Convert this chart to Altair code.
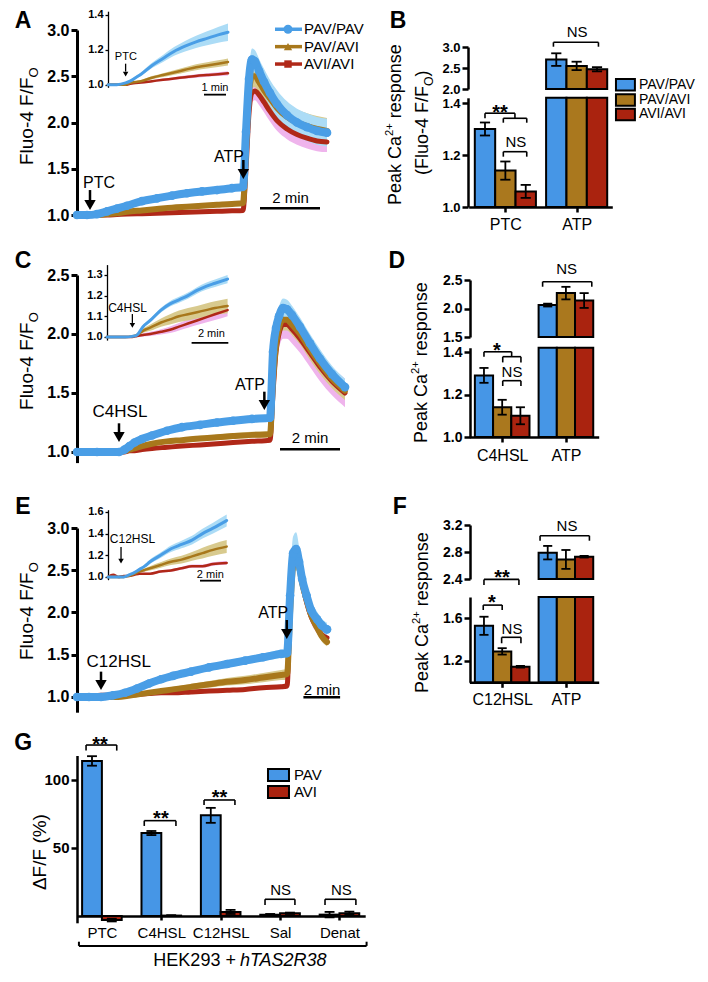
import json
import altair as alt
import pandas as pd

FONT = "Liberation Sans"
M = 8
W, H = 692, 962

GENOS = ["PAV/PAV", "PAV/AVI", "AVI/AVI"]
G_GENOS = ["PAV", "AVI"]
LINE_COL = ["#4a9ee6", "#a8781c", "#b02818"]
BAND_COL = ["#acdcf6", "#d8ca8e", "#efb4ec"]
BAR_COL = ["#4696e6", "#aa781e", "#aa230f"]

# ---------------- data: panel A (PTC, time in s) ----------------
A_T = [0, 20, 40, 60, 80, 100, 130, 160, 190, 220, 250, 280, 310, 332, 338, 344, 350, 356, 364, 374, 386, 400, 420, 440, 460, 480, 500]
A_PP = [1.00, 1.00, 1.01, 1.04, 1.07, 1.10, 1.15, 1.18, 1.21, 1.235, 1.255, 1.27, 1.29, 1.305, 1.90, 2.47, 2.68, 2.66, 2.56, 2.44, 2.32, 2.20, 2.08, 2.00, 1.95, 1.91, 1.89]
A_PP_SEM = [0.005, 0.005, 0.005, 0.01, 0.01, 0.012, 0.015, 0.018, 0.02, 0.022, 0.025, 0.027, 0.03, 0.03, 0.08, 0.10, 0.12, 0.12, 0.13, 0.14, 0.14, 0.15, 0.15, 0.15, 0.15, 0.15, 0.15]
A_PA = [1.00, 1.00, 1.00, 1.01, 1.02, 1.035, 1.05, 1.065, 1.08, 1.09, 1.10, 1.11, 1.12, 1.13, 1.70, 2.30, 2.50, 2.50, 2.44, 2.35, 2.26, 2.16, 2.06, 2.00, 1.96, 1.93, 1.91]
A_PA_SEM = [0.005, 0.005, 0.005, 0.008, 0.01, 0.012, 0.014, 0.016, 0.018, 0.02, 0.022, 0.024, 0.025, 0.025, 0.08, 0.10, 0.12, 0.12, 0.13, 0.13, 0.14, 0.14, 0.14, 0.14, 0.14, 0.14, 0.14]
A_AA = [1.00, 1.00, 1.00, 1.00, 1.005, 1.01, 1.015, 1.02, 1.025, 1.03, 1.035, 1.04, 1.045, 1.05, 1.50, 2.10, 2.32, 2.34, 2.30, 2.22, 2.12, 2.02, 1.93, 1.87, 1.83, 1.80, 1.79]
A_AA_SEM = [0.005, 0.005, 0.005, 0.006, 0.007, 0.008, 0.009, 0.01, 0.011, 0.012, 0.013, 0.014, 0.015, 0.015, 0.08, 0.10, 0.10, 0.10, 0.11, 0.11, 0.11, 0.11, 0.11, 0.11, 0.11, 0.11, 0.11]
# inset A (time in min)
AI_T = [0, 0.4, 0.8, 1.0, 1.25, 1.5, 2.0, 2.5, 3.0, 3.5, 4.0, 4.5, 5.0, 5.45]
AI_PP = [1.00, 1.00, 1.01, 1.02, 1.04, 1.06, 1.11, 1.15, 1.19, 1.22, 1.245, 1.265, 1.285, 1.30]
AI_PP_SEM = [0.003, 0.003, 0.004, 0.005, 0.008, 0.01, 0.015, 0.02, 0.025, 0.03, 0.035, 0.04, 0.045, 0.05]
AI_PA = [1.00, 1.00, 1.00, 1.01, 1.015, 1.02, 1.04, 1.055, 1.07, 1.085, 1.10, 1.11, 1.12, 1.13]
AI_PA_SEM = [0.003, 0.003, 0.004, 0.005, 0.006, 0.007, 0.009, 0.011, 0.013, 0.015, 0.017, 0.018, 0.019, 0.02]
AI_AA = [1.00, 1.00, 1.00, 1.005, 1.01, 1.012, 1.02, 1.028, 1.035, 1.043, 1.05, 1.055, 1.06, 1.065]
AI_AA_SEM = [0.003, 0.003, 0.003, 0.004, 0.005, 0.005, 0.006, 0.007, 0.008, 0.009, 0.01, 0.01, 0.011, 0.012]

# ---------------- data: panel C (C4HSL) ----------------
C_T = [0, 40, 84, 95, 105, 115, 130, 150, 180, 210, 246, 280, 312, 350, 386, 392, 398, 404, 412, 420, 430, 446, 466, 486, 510, 536]
C_PP = [1.00, 1.00, 1.00, 1.02, 1.05, 1.08, 1.11, 1.14, 1.18, 1.21, 1.23, 1.25, 1.265, 1.28, 1.29, 1.85, 2.05, 2.15, 2.22, 2.21, 2.16, 2.06, 1.92, 1.79, 1.66, 1.55]
C_PP_SEM = [0.005, 0.005, 0.005, 0.008, 0.01, 0.01, 0.012, 0.014, 0.016, 0.018, 0.02, 0.02, 0.02, 0.02, 0.02, 0.06, 0.07, 0.08, 0.08, 0.08, 0.08, 0.08, 0.08, 0.08, 0.07, 0.07]
C_PA = [1.00, 1.00, 1.00, 1.01, 1.02, 1.03, 1.05, 1.07, 1.09, 1.10, 1.115, 1.125, 1.135, 1.145, 1.15, 1.60, 1.90, 2.05, 2.12, 2.12, 2.08, 2.00, 1.87, 1.75, 1.62, 1.52]
C_PA_SEM = [0.005, 0.005, 0.005, 0.006, 0.008, 0.01, 0.012, 0.015, 0.018, 0.02, 0.022, 0.024, 0.025, 0.026, 0.027, 0.07, 0.08, 0.09, 0.09, 0.09, 0.09, 0.09, 0.09, 0.09, 0.08, 0.08]
C_AA = [1.00, 1.00, 1.00, 1.00, 1.01, 1.01, 1.02, 1.03, 1.04, 1.05, 1.06, 1.07, 1.08, 1.09, 1.10, 1.50, 1.85, 2.00, 2.08, 2.08, 2.04, 1.96, 1.84, 1.72, 1.60, 1.50]
C_AA_SEM = [0.005, 0.005, 0.005, 0.005, 0.006, 0.006, 0.007, 0.008, 0.009, 0.01, 0.011, 0.012, 0.013, 0.014, 0.015, 0.10, 0.11, 0.12, 0.12, 0.12, 0.12, 0.12, 0.12, 0.12, 0.12, 0.12]
CI_T = [0, 0.5, 1.0, 1.4, 1.67, 2.0, 2.4, 3.0, 3.5, 4.0, 4.5, 5.0, 5.5, 6.0, 6.7]
CI_PP = [1.00, 1.00, 1.00, 1.003, 1.01, 1.05, 1.08, 1.13, 1.16, 1.18, 1.20, 1.225, 1.245, 1.26, 1.28]
CI_PP_SEM = [0.003, 0.003, 0.003, 0.003, 0.005, 0.008, 0.01, 0.012, 0.013, 0.014, 0.015, 0.016, 0.017, 0.018, 0.02]
CI_PA = [1.00, 1.00, 1.00, 1.003, 1.01, 1.03, 1.045, 1.07, 1.085, 1.10, 1.11, 1.12, 1.13, 1.14, 1.15]
CI_PA_SEM = [0.003, 0.003, 0.003, 0.003, 0.005, 0.01, 0.015, 0.02, 0.025, 0.028, 0.03, 0.03, 0.032, 0.033, 0.035]
CI_AA = [1.00, 1.00, 1.00, 1.00, 1.005, 1.01, 1.015, 1.025, 1.035, 1.05, 1.065, 1.08, 1.095, 1.11, 1.13]
CI_AA_SEM = [0.003, 0.003, 0.003, 0.003, 0.005, 0.008, 0.01, 0.013, 0.016, 0.018, 0.02, 0.022, 0.025, 0.028, 0.03]

# ---------------- data: panel E (C12HSL) ----------------
E_T = [0, 40, 80, 120, 160, 200, 240, 280, 320, 380, 440, 500, 560, 620, 680, 700, 710, 720, 730, 740, 750, 765, 780, 800, 815, 833]
E_PP = [1.00, 1.00, 1.00, 1.02, 1.05, 1.10, 1.16, 1.21, 1.25, 1.30, 1.35, 1.39, 1.43, 1.47, 1.51, 1.52, 2.20, 2.70, 2.75, 2.60, 2.40, 2.20, 2.03, 1.92, 1.85, 1.80]
E_PP_SEM = [0.005, 0.005, 0.005, 0.008, 0.01, 0.015, 0.02, 0.025, 0.03, 0.035, 0.04, 0.04, 0.045, 0.045, 0.05, 0.05, 0.15, 0.20, 0.20, 0.18, 0.15, 0.12, 0.10, 0.09, 0.08, 0.08]
E_PA = [1.00, 1.00, 1.00, 1.00, 1.01, 1.03, 1.05, 1.07, 1.09, 1.12, 1.15, 1.18, 1.20, 1.23, 1.26, 1.27, 2.00, 2.55, 2.65, 2.55, 2.35, 2.15, 1.97, 1.82, 1.72, 1.65]
E_PA_SEM = [0.005, 0.005, 0.005, 0.006, 0.01, 0.015, 0.02, 0.025, 0.03, 0.035, 0.04, 0.045, 0.05, 0.055, 0.06, 0.065, 0.12, 0.15, 0.15, 0.14, 0.12, 0.10, 0.08, 0.07, 0.06, 0.05]
E_AA = [1.00, 1.01, 1.02, 1.02, 1.02, 1.03, 1.04, 1.05, 1.05, 1.06, 1.07, 1.08, 1.09, 1.11, 1.12, 1.13, 2.10, 2.62, 2.70, 2.55, 2.35, 2.12, 1.95, 1.82, 1.74, 1.70]
E_AA_SEM = [0.005, 0.008, 0.01, 0.01, 0.01, 0.012, 0.013, 0.014, 0.015, 0.016, 0.018, 0.02, 0.022, 0.025, 0.028, 0.03, 0.12, 0.15, 0.15, 0.13, 0.11, 0.09, 0.08, 0.07, 0.06, 0.06]
EI_T = [0, 0.5, 1.0, 1.5, 2.0, 2.5, 3.0, 3.5, 4.0, 5.0, 6.0, 7.0, 8.0, 9.0, 10.0, 11.3]
EI_PP = [1.00, 1.00, 1.00, 1.00, 1.02, 1.04, 1.07, 1.10, 1.14, 1.20, 1.26, 1.30, 1.34, 1.40, 1.45, 1.52]
EI_PP_SEM = [0.005, 0.005, 0.005, 0.005, 0.008, 0.01, 0.012, 0.015, 0.02, 0.025, 0.03, 0.035, 0.04, 0.045, 0.05, 0.055]
EI_PA = [1.00, 1.00, 1.00, 1.00, 1.01, 1.03, 1.05, 1.065, 1.08, 1.11, 1.14, 1.16, 1.19, 1.22, 1.25, 1.28]
EI_PA_SEM = [0.005, 0.005, 0.005, 0.005, 0.006, 0.008, 0.01, 0.015, 0.02, 0.025, 0.03, 0.035, 0.04, 0.05, 0.055, 0.06]
EI_AA = [1.00, 1.02, 1.00, 1.01, 1.01, 1.02, 1.03, 1.03, 1.03, 1.05, 1.06, 1.08, 1.10, 1.10, 1.12, 1.13]
EI_AA_SEM = [0.005, 0.005, 0.005, 0.005, 0.006, 0.007, 0.008, 0.009, 0.01, 0.011, 0.012, 0.013, 0.014, 0.015, 0.016, 0.017]

# ---------------- data: peak bar panels ----------------
B_CONDS = ["PTC", "ATP"]
B_PP, B_PP_SEM = [1.30, 2.70], [0.025, 0.15]
B_PA, B_PA_SEM = [1.14, 2.55], [0.035, 0.10]
B_AA, B_AA_SEM = [1.06, 2.47], [0.025, 0.05]
D_CONDS = ["C4HSL", "ATP"]
D_PP, D_PP_SEM = [1.29, 2.06], [0.035, 0.025]
D_PA, D_PA_SEM = [1.14, 2.27], [0.035, 0.11]
D_AA, D_AA_SEM = [1.10, 2.14], [0.04, 0.13]
F_CONDS = ["C12HSL", "ATP"]
F_PP, F_PP_SEM = [1.53, 2.79], [0.085, 0.10]
F_PA, F_PA_SEM = [1.29, 2.69], [0.03, 0.14]
F_AA, F_AA_SEM = [1.146, 2.73], [0.008, 0.012]
# panel G
G_CONDS = ["PTC", "C4HSL", "C12HSL", "Sal", "Denat"]
G_PAV, G_PAV_SEM = [114, 61, 74, 1, 1], [3.5, 1.5, 5.5, 0.5, 2]
G_AVI, G_AVI_SEM = [-3, 0.3, 3, 2, 2], [1, 0.3, 1.5, 0.5, 1.2]

# ---------------- helpers ----------------
L = []


class Frame:
    def __init__(self, xd, xr, yd, yr):
        self.xd, self.yd = xd, yd
        self.xs = alt.Scale(domain=xd, range=[r - M for r in xr], nice=False, zero=False)
        self.ys = alt.Scale(domain=yd, range=[r - M for r in yr], nice=False, zero=False)

    def x(self, f="x"):
        return alt.X(f, type="quantitative", scale=self.xs, axis=None)

    def y(self, f="y"):
        return alt.Y(f, type="quantitative", scale=self.ys, axis=None)


def add_series(fr, t, means, sems, widths, dot=0):
    for k in (2, 1, 0):
        df = pd.DataFrame({"x": t,
                           "y": [m - s for m, s in zip(means[k], sems[k])],
                           "y2": [m + s for m, s in zip(means[k], sems[k])]})
        L.append(alt.Chart(df).mark_area(color=BAND_COL[k], interpolate="monotone")
                 .encode(x=fr.x(), y=fr.y(), y2="y2"))
    for k in (2, 1, 0):
        df = pd.DataFrame({"x": t, "y": means[k]})
        L.append(alt.Chart(df).mark_line(color=LINE_COL[k], strokeWidth=widths[k], interpolate="monotone",
                                         strokeCap="round", strokeJoin="round")
                 .encode(x=fr.x(), y=fr.y()))
    if dot:
        df = pd.DataFrame({"x": t, "y": means[0]})
        L.append(alt.Chart(df).mark_circle(color=LINE_COL[0], size=dot, opacity=1)
                 .encode(x=fr.x(), y=fr.y()))


def add_text(fr, x, y, s, size=15, weight="normal", style="normal", angle=0, align="center",
             baseline="alphabetic", dx=0, dy=0):
    df = pd.DataFrame({"x": [x], "y": [y], "s": [s]})
    L.append(alt.Chart(df).mark_text(font=FONT, fontSize=size, fontWeight=weight, fontStyle=style,
                                     angle=angle, align=align, baseline=baseline, dx=dx, dy=dy,
                                     color="black")
             .encode(x=fr.x(), y=fr.y(), text="s:N"))


def add_rules(fr, segs, sw=1.6, color="black"):
    if not segs:
        return
    df = pd.DataFrame(segs, columns=["x", "x2", "y", "y2"])
    L.append(alt.Chart(df).mark_rule(color=color, strokeWidth=sw, strokeCap="butt")
             .encode(x=fr.x(), x2="x2", y=fr.y(), y2="y2"))


def bracket(x1, x2, y, yl):
    return [(x1, x2, y, y), (x1, x1, y, yl), (x2, x2, y, yl)]


def add_arrow(fr, x, y0, y1, yh, size, sw):
    add_rules(fr, [(x, x, y0, y1)], sw)
    df = pd.DataFrame({"x": [x], "y": [yh]})
    L.append(alt.Chart(df).mark_point(shape="triangle-down", filled=True, color="black", size=size, opacity=1)
             .encode(x=fr.x(), y=fr.y()))


def add_yaxis(fr, xpix, values, fmt, fs, dw, ts, pad=2):
    ax = alt.Axis(orient="left", offset=-(xpix - M), values=values, format=fmt, title=None, grid=False,
                  labelFont=FONT, labelFontSize=fs, labelFontWeight="bold", labelColor="black",
                  domainColor="black", domainWidth=dw, tickColor="black", tickWidth=dw, tickSize=ts,
                  labelPadding=pad, labelOverlap=False)
    df = pd.DataFrame({"y": values})
    L.append(alt.Chart(df).mark_point(opacity=0).encode(y=alt.Y("y:Q", scale=fr.ys, axis=ax)))


def add_xaxis(fr, ypix, values, labels, fs, dw, ts, pad):
    expr = f"{json.dumps(labels)}[indexof({json.dumps(values)}, datum.value)]"
    ax = alt.Axis(orient="bottom", offset=(ypix - M) - H, values=values, labelExpr=expr, title=None,
                  grid=False, labelFont=FONT, labelFontSize=fs, labelColor="black", domainColor="black",
                  domainWidth=dw, tickColor="black", tickWidth=dw, tickSize=ts, labelPadding=pad,
                  labelFlush=False, labelOverlap=False)
    df = pd.DataFrame({"x": values})
    L.append(alt.Chart(df).mark_point(opacity=0).encode(x=alt.X("x:Q", scale=fr.xs, axis=ax)))


def add_fluo_title(fr, x, y, size=19, paren=False):
    pre = "(Fluo-4 F/F" if paren else "Fluo-4 F/F"
    w = size * (4.612 + (0.333 if paren else 0))
    add_text(fr, x, y, pre, size, angle=270, align="left")
    add_text(fr, x, y, "O", size * 0.68, angle=270, align="left", dx=w, dy=size * 0.28)
    if paren:
        add_text(fr, x, y, ")", size, angle=270, align="left", dx=w + size * 0.68 * 0.778)


def add_peak_title(fr, x, y, size=18):
    add_text(fr, x, y, "Peak Ca", size, angle=270, align="left")
    add_text(fr, x, y, "2+", size * 0.62, angle=270, align="left", dx=size * 3.835, dy=-size * 0.42)
    add_text(fr, x, y, "response", size, angle=270, align="left",
             dx=size * 3.835 + size * 0.62 * 1.14 + size * 0.278)


def add_bar_panel(fb, ft, conds, vals, sems):
    rows_b, rows_t, err_b, err_t = [], [], [], []
    for g, _c in enumerate(conds):
        for k, geno in enumerate(GENOS):
            p = g * 3.5 + k
            v, s = vals[k][g], sems[k][g]
            rows_b.append({"x": p - 0.5, "x2": p + 0.5, "y": fb.yd[0], "y2": min(v, fb.yd[1]), "g": geno})
            eb = [(p, p, v - s, v + s), (p - 0.25, p + 0.25, v + s, v + s), (p - 0.25, p + 0.25, v - s, v - s)]
            if v > ft.yd[0]:
                rows_t.append({"x": p - 0.5, "x2": p + 0.5, "y": ft.yd[0], "y2": v, "g": geno})
                err_t += eb
            else:
                err_b += eb
    for fr, rows in ((fb, rows_b), (ft, rows_t)):
        L.append(alt.Chart(pd.DataFrame(rows)).mark_rect(stroke="black", strokeWidth=2)
                 .encode(x=fr.x(), x2="x2", y=fr.y(), y2="y2",
                         color=alt.Color("g:N", scale=alt.Scale(domain=GENOS, range=BAR_COL), legend=None)))
    add_rules(fb, err_b, 1.8)
    add_rules(ft, err_t, 1.8)


# ================= Panel A =================
FA = Frame([0, 500], [77, 327], [0.97, 3.0], [217.8, 30])
FAi = Frame([0, 5.45], [108, 228], [0.985, 1.42], [87.3, 11.2])
add_series(FA, A_T, [A_PP, A_PA, A_AA], [A_PP_SEM, A_PA_SEM, A_AA_SEM], [8, 6, 5], dot=75)
add_series(FAi, AI_T, [AI_PP, AI_PA, AI_AA], [AI_PP_SEM, AI_PA_SEM, AI_AA_SEM], [3, 2.5, 2.5])
add_yaxis(FA, 77, [1.0, 1.5, 2.0, 2.5, 3.0], ".1f", 16, 3, 6)
add_yaxis(FAi, 108, [1.0, 1.2, 1.4], ".1f", 11, 1.3, 3)
add_text(FA, -108, 3.098, "A", 23, "bold", baseline="middle")
add_fluo_title(FA, -88, 1.54)
add_text(FA, 44, 1.292, "PTC", 16)
add_arrow(FA, 26, 1.27, 1.15, 1.108, 130, 2.5)
add_text(FA, 304, 1.573, "ATP", 16)
add_arrow(FA, 332.7, 1.595, 1.47, 1.443, 130, 2.5)
add_rules(FA, [(366, 486, 1.072, 1.072)], 2.5)
add_text(FA, 427, 1.13, "2 min", 15)
# legend A
leg_y = [3.008, 2.82, 2.632]
for k, (shape, size) in enumerate([("circle", 80), ("triangle-up", 70), ("square", 55)]):
    add_rules(FA, [(396, 450, leg_y[k], leg_y[k])], 3.5, LINE_COL[k])
    L.append(alt.Chart(pd.DataFrame({"x": [422], "y": [leg_y[k]]}))
             .mark_point(shape=shape, filled=True, color=LINE_COL[k], size=size, opacity=1)
             .encode(x=FA.x(), y=FA.y()))
    add_text(FA, 454, leg_y[k], GENOS[k], 15, align="left", baseline="middle")
# inset annotations
add_text(FAi, 0.81, 1.139, "PTC", 11)
add_arrow(FAi, 0.80, 1.12, 1.075, 1.061, 30, 1.3)
add_text(FAi, 4.86, 0.962, "1 min", 11)
add_rules(FAi, [(4.36, 5.36, 0.943, 0.943)], 1.8)

# ================= Panel C =================
FC = Frame([0, 536], [77, 345], [0.91, 2.5], [462.6, 275])
FCi = Frame([0, 6.7], [107, 227.6], [0.985, 1.35], [340.1, 264.6])
add_series(FC, C_T, [C_PP, C_PA, C_AA], [C_PP_SEM, C_PA_SEM, C_AA_SEM], [8, 6, 5], dot=75)
add_series(FCi, CI_T, [CI_PP, CI_PA, CI_AA], [CI_PP_SEM, CI_PA_SEM, CI_AA_SEM], [3, 2.5, 2.5])
add_yaxis(FC, 77, [1.0, 1.5, 2.0, 2.5], ".1f", 16, 3, 6)
add_yaxis(FCi, 107, [1.0, 1.1, 1.2, 1.3], ".1f", 11, 1.3, 3)
add_text(FC, -108, 2.619, "C", 23, "bold", baseline="middle")
add_fluo_title(FC, -88, 1.356)
add_text(FC, 86, 1.299, "C4HSL", 17)
add_arrow(FC, 84, 1.243, 1.15, 1.127, 130, 2.5)
add_text(FC, 346, 1.525, "ATP", 16)
add_arrow(FC, 374.7, 1.511, 1.42, 1.398, 130, 2.5)
add_rules(FC, [(406, 526, 1.023, 1.023)], 2.5)
add_text(FC, 466, 1.076, "2 min", 15)
add_text(FCi, 1.14, 1.122, "C4HSL", 12)
add_arrow(FCi, 1.41, 1.111, 1.068, 1.056, 30, 1.3)
add_text(FCi, 5.8, 0.998, "2 min", 11)
add_rules(FCi, [(4.7, 6.74, 0.972, 0.972)], 1.8)

# ================= Panel E =================
FE = Frame([0, 833], [77, 327], [0.82, 3.0], [712.2, 528])
FEi = Frame([0, 11.3], [108, 226.7], [0.975, 1.62], [579.7, 509.7])
add_series(FE, E_T, [E_PP, E_PA, E_AA], [E_PP_SEM, E_PA_SEM, E_AA_SEM], [8, 6, 5], dot=75)
add_series(FEi, EI_T, [EI_PP, EI_PA, EI_AA], [EI_PP_SEM, EI_PA_SEM, EI_AA_SEM], [3, 2.5, 2.5])
add_yaxis(FE, 77, [1.0, 1.5, 2.0, 2.5, 3.0], ".1f", 16, 3, 6)
add_yaxis(FEi, 108, [1.0, 1.2, 1.4, 1.6], ".1f", 11, 1.3, 3)
add_text(FE, -180, 3.249, "E", 23, "bold", baseline="middle")
add_fluo_title(FE, -146.7, 1.438)
add_text(FE, 139, 1.359, "C12HSL", 17)
add_arrow(FE, 80, 1.30, 1.17, 1.142, 130, 2.5)
add_text(FE, 654, 1.931, "ATP", 16)
add_arrow(FE, 699, 1.911, 1.77, 1.746, 130, 2.5)
add_rules(FE, [(754.4, 876.7, 0.996, 0.996)], 2.5)
add_text(FE, 816.7, 1.024, "2 min", 15)
add_text(FEi, 2.33, 1.31, "C12HSL", 12)
add_arrow(FEi, 1.24, 1.276, 1.16, 1.147, 30, 1.3)
add_text(FEi, 9.74, 0.988, "2 min", 11)
add_rules(FEi, [(8.76, 10.76, 0.966, 0.966)], 1.8)

# ================= Panel B =================
FBb = Frame([-0.8, 6.25], [468.7, 612.3], [1.0, 1.42], [207, 97.8])
FBt = Frame([-0.8, 6.25], [468.7, 612.3], [2.0, 3.0], [89, 47])
add_bar_panel(FBb, FBt, B_CONDS, [B_PP, B_PA, B_AA], [B_PP_SEM, B_PA_SEM, B_AA_SEM])
add_yaxis(FBb, 468, [1.0, 1.2, 1.4], ".1f", 13, 2.5, 6)
add_yaxis(FBt, 468, [2.0, 2.5, 3.0], ".1f", 13, 2.5, 6)
add_xaxis(FBb, 207, [1.0, 4.5], B_CONDS, 16, 2.5, 5, 4)
add_text(FBb, -4.27, 1.7154, "B", 23, "bold", baseline="middle")
add_peak_title(FBb, -4.13, 1.008)
add_fluo_title(FBb, -2.8, 1.123, 18, paren=True)
add_rules(FBb, [(0, 1.47, 1.3608, 1.3608), (0, 0, 1.3608, 1.3412), (1.47, 1.47, 1.3608, 1.3412)]
          + bracket(0.9, 2.05, 1.3412, 1.3242) + bracket(0.9, 2.05, 1.2127, 1.1935))
add_text(FBb, 0.74, 1.34, "**", 20, "bold")
add_text(FBb, 1.52, 1.232, "NS", 15)
add_rules(FBt, bracket(3.36, 5.57, 3.112, 3.007))
add_text(FBt, 4.52, 3.245, "NS", 15)
# legend B
leg_b = [1.47, 1.4115, 1.356]
L.append(alt.Chart(pd.DataFrame({"x": [6.43] * 3, "x2": [7.36] * 3, "y": [v - 0.022 for v in leg_b],
                                 "y2": [v + 0.022 for v in leg_b], "g": GENOS}))
         .mark_rect(stroke="black", strokeWidth=2)
         .encode(x=FBb.x(), x2="x2", y=FBb.y(), y2="y2",
                 color=alt.Color("g:N", scale=alt.Scale(domain=GENOS, range=BAR_COL), legend=None)))
for k in range(3):
    add_text(FBb, 7.56, leg_b[k], GENOS[k], 14, align="left", baseline="middle")

# ================= Panel D =================
FDb = Frame([-0.8, 6.3], [469.4, 598.7], [1.0, 1.42], [437, 347.75])
FDt = Frame([-0.8, 6.3], [469.4, 598.7], [1.5, 2.5], [337, 280])
add_bar_panel(FDb, FDt, D_CONDS, [D_PP, D_PA, D_AA], [D_PP_SEM, D_PA_SEM, D_AA_SEM])
add_yaxis(FDb, 470, [1.0, 1.2, 1.4], ".1f", 14, 2.5, 6)
add_yaxis(FDt, 470, [1.5, 2.0, 2.5], ".1f", 14, 2.5, 6)
add_xaxis(FDb, 437, [1.0, 4.5], D_CONDS, 16, 2.5, 5, 5)
add_text(FDb, -4.78, 1.828, "D", 23, "bold", baseline="middle")
add_peak_title(FDb, -3.13, 0.972)
add_rules(FDb, [(0, 1.52, 1.401, 1.401), (0, 0, 1.401, 1.378), (1.52, 1.52, 1.401, 1.378)]
          + bracket(1.03, 2.03, 1.378, 1.351) + bracket(1.03, 2.03, 1.265, 1.24))
add_text(FDb, 0.71, 1.378, "*", 20, "bold")
add_text(FDb, 1.54, 1.281, "NS", 15)
add_rules(FDt, bracket(3.22, 5.92, 2.47, 2.382))
add_text(FDt, 4.54, 2.6, "NS", 15)

# ================= Panel F =================
FFb = Frame([-0.8, 6.3], [469.4, 598.7], [1.0, 1.8], [682.3, 597])
FFt = Frame([-0.8, 6.3], [469.4, 598.7], [2.4, 3.2], [579, 525])
add_bar_panel(FFb, FFt, F_CONDS, [F_PP, F_PA, F_AA], [F_PP_SEM, F_PA_SEM, F_AA_SEM])
add_yaxis(FFb, 470, [1.2, 1.6], ".1f", 14, 2.5, 6)
add_yaxis(FFt, 470, [2.4, 2.8, 3.2], ".1f", 14, 2.5, 6)
add_xaxis(FFb, 682.3, [1.0, 4.5], F_CONDS, 16, 2.5, 5, 4)
add_text(FFb, -4.62, 2.643, "F", 23, "bold", baseline="middle")
add_peak_title(FFb, -3.08, 0.9)
add_rules(FFb, bracket(0, 1.92, 1.965, 1.912) + bracket(-0.04, 1.0, 1.724, 1.678)
          + bracket(0.97, 2.03, 1.422, 1.366))
add_text(FFb, 0.99, 1.924, "**", 20, "bold")
add_text(FFb, 0.44, 1.69, "*", 20, "bold")
add_text(FFb, 1.54, 1.453, "NS", 15)
add_rules(FFt, bracket(3.08, 5.79, 3.041, 2.967))
add_text(FFt, 4.56, 3.116, "NS", 15)

# ================= Panel G =================
FG = Frame([-0.75, 13.8], [77.15, 365.2], [-5, 118], [922.8, 755.5])
rows, errs = [], []
for g in range(len(G_CONDS)):
    for k, (vals, sems) in enumerate([(G_PAV, G_PAV_SEM), (G_AVI, G_AVI_SEM)]):
        p = 3 * g + k
        v, s = vals[g], sems[g]
        rows.append({"x": p - 0.5, "x2": p + 0.5, "y": 0, "y2": v, "g": G_GENOS[k]})
        errs += [(p, p, v - s, v + s), (p - 0.25, p + 0.25, v + s, v + s), (p - 0.25, p + 0.25, v - s, v - s)]
L.append(alt.Chart(pd.DataFrame(rows)).mark_rect(stroke="black", strokeWidth=2)
         .encode(x=FG.x(), x2="x2", y=FG.y(), y2="y2",
                 color=alt.Color("g:N", scale=alt.Scale(domain=G_GENOS, range=[BAR_COL[0], BAR_COL[2]]), legend=None)))
add_rules(FG, errs, 1.8)
add_yaxis(FG, 77, [50, 100], "d", 15, 2.5, 6)
add_xaxis(FG, 916, [3 * g + 0.5 for g in range(len(G_CONDS))], G_CONDS, 15, 2.5, 4, 5)
add_text(FG, -3.48, 127.2, "G", 23, "bold", baseline="middle")
add_text(FG, -2.32, 47, "ΔF/F (%)", 19, angle=270)
add_rules(FG, bracket(-0.3, 1.25, 125.7, 121.6) + bracket(2.64, 4.24, 70.1, 66.2)
          + bracket(5.66, 7.22, 85.3, 81.6) + bracket(8.74, 10.25, 12.3, 8.1)
          + bracket(11.77, 13.33, 12.3, 8.1))
add_text(FG, 0.4, 121.5, "**", 20, "bold")
add_text(FG, 3.48, 66.6, "**", 20, "bold")
add_text(FG, 6.44, 82.6, "**", 20, "bold")
add_text(FG, 9.53, 15.4, "NS", 15)
add_text(FG, 12.6, 15.4, "NS", 15)
add_rules(FG, bracket(-0.66, 13.87, -22, -18.9), 2)
add_text(FG, 7.27, -36.8, "HEK293 +", 18, align="right")
add_text(FG, 7.47, -36.8, "hTAS2R38", 18, style="italic", align="left")
leg_g = [103.7, 91.2]
L.append(alt.Chart(pd.DataFrame({"x": [8.89] * 2, "x2": [9.95] * 2, "y": [v - 4.4 for v in leg_g],
                                 "y2": [v + 4.4 for v in leg_g], "g": G_GENOS}))
         .mark_rect(stroke="black", strokeWidth=2)
         .encode(x=FG.x(), x2="x2", y=FG.y(), y2="y2",
                 color=alt.Color("g:N", scale=alt.Scale(domain=G_GENOS, range=[BAR_COL[0], BAR_COL[2]]), legend=None)))
for k in range(2):
    add_text(FG, 10.2, leg_g[k], G_GENOS[k], 15, align="left", baseline="middle")

chart = (alt.layer(*L)
         .resolve_scale(x="independent", y="independent", color="independent")
         .resolve_axis(x="independent", y="independent")
         .properties(width=W, height=H, padding=0, autosize=alt.AutoSizeParams(type="none"))
         .configure_view(strokeWidth=0)
         .configure_axis(grid=False))
chart.save("out.html", embed_options={"renderer": "svg", "actions": False})
